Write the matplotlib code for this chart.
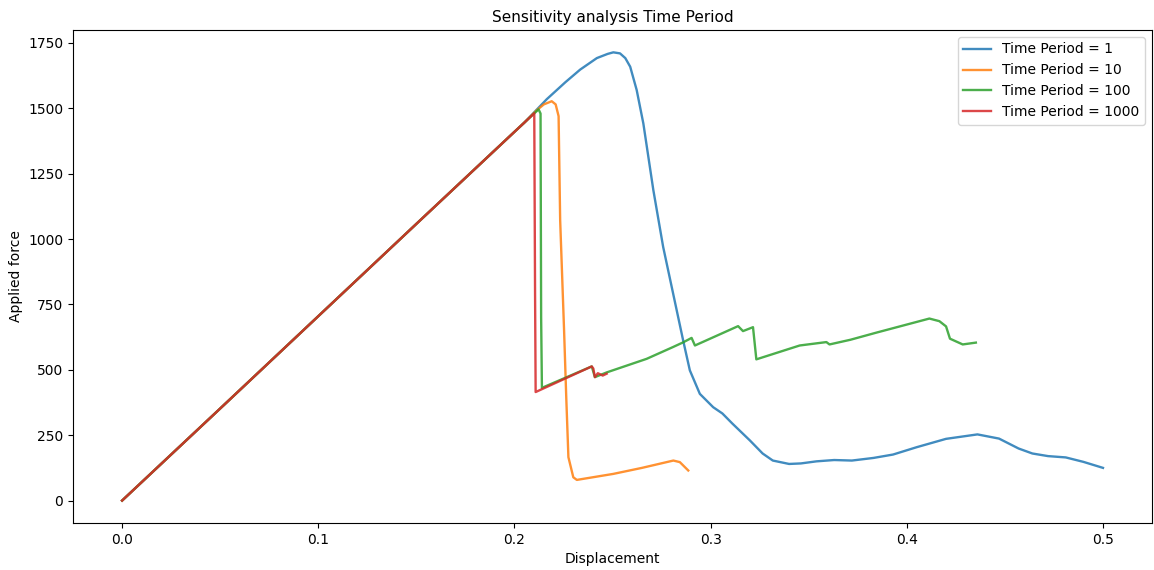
import numpy as np
import matplotlib
matplotlib.use("Agg")
import matplotlib.pyplot as plt

# shared elastic ramp (all runs overlap here)
ramp_x = [0.0, 0.05, 0.10, 0.15, 0.20]
ramp_y = [0.0, 352, 705, 1058, 1410]

# Time Period = 1
tp1_x = [0.205, 0.2165, 0.226, 0.2335, 0.242, 0.2475, 0.2504, 0.2538, 0.2565, 0.259,
         0.2623, 0.2657, 0.2708, 0.2758, 0.2809, 0.286, 0.2894, 0.2945, 0.3013, 0.306,
         0.311, 0.320, 0.3265, 0.3317, 0.340, 0.346, 0.354, 0.363, 0.372, 0.383,
         0.393, 0.405, 0.420, 0.436, 0.447, 0.457, 0.464, 0.472, 0.481, 0.490, 0.500]
tp1_y = [1445, 1535, 1600, 1648, 1692, 1708, 1714, 1710, 1692, 1659,
         1570, 1442, 1187, 970, 791, 612, 498, 408, 357, 333,
         295, 230, 180, 153, 140, 142, 150, 155, 153, 163,
         176, 204, 236, 253, 237, 199, 180, 170, 165, 148, 125]

# Time Period = 10
tp10_x = [0.205, 0.211, 0.215, 0.219, 0.221, 0.2225, 0.2233, 0.2253, 0.2264, 0.2275,
          0.230, 0.2318, 0.2504, 0.265, 0.281, 0.2843, 0.2886]
tp10_y = [1445, 1490, 1515, 1527, 1515, 1470, 1072, 650, 395, 166,
          89, 79, 102, 125, 153, 147, 115]

# Time Period = 100
tp100_x = [0.205, 0.2123, 0.2133, 0.2136, 0.2140, 0.2394, 0.241, 0.247, 0.2674, 0.2808,
           0.286, 0.2903, 0.292, 0.314, 0.3165, 0.3216, 0.3233, 0.3454, 0.359, 0.3606,
           0.3713, 0.3844, 0.4115, 0.4166, 0.420, 0.422, 0.4285, 0.4352]
tp100_y = [1445, 1496, 1480, 700, 431, 513, 472, 490, 542, 587,
           605, 622, 593, 667, 648, 663, 540, 593, 606, 597,
           615, 642, 696, 686, 666, 619, 597, 604]

# Time Period = 1000
tp1000_x = [0.205, 0.2101, 0.2105, 0.2108, 0.2394, 0.2402, 0.241, 0.2425, 0.245, 0.247]
tp1000_y = [1445, 1481, 800, 415, 513, 505, 472, 487, 478, 485]

runs = [("Time Period = 1", tp1_x, tp1_y),
        ("Time Period = 10", tp10_x, tp10_y),
        ("Time Period = 100", tp100_x, tp100_y),
        ("Time Period = 1000", tp1000_x, tp1000_y)]

fig = plt.figure(figsize=(11.54, 5.7), dpi=100)
ax = fig.add_axes([0.0633, 0.0825, 0.935, 0.865])

for label, xs, ys in runs:
    ax.plot(ramp_x + xs, ramp_y + ys, label=label, linewidth=1.7, alpha=0.85)

ax.set_title("Sensitivity analysis Time Period", fontsize=11)
ax.set_xlabel("Displacement", fontsize=10)
ax.set_ylabel("Applied force", fontsize=10)
ax.tick_params(labelsize=10)
ax.legend(loc="upper right", fontsize=10)

fig.savefig("out.png", dpi=100)
